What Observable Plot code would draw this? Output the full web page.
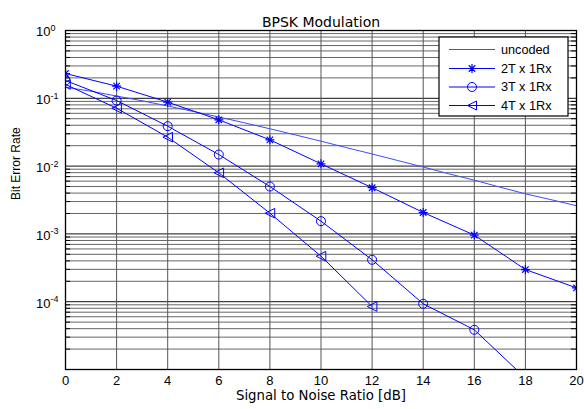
<!DOCTYPE html>
<html>
<head>
<meta charset="utf-8">
<script src="https://cdn.jsdelivr.net/npm/d3@7"></script>
<script src="https://cdn.jsdelivr.net/npm/@observablehq/plot@0.6"></script>
<style>
  body { margin: 0; background: #fff; }
  svg { font-family: "Liberation Sans", Arial, sans-serif; }
</style>
</head>
<body>
<div id="chart"></div>
<script>
// ---- data ----
const title = "BPSK Modulation";
const xLabel = "Signal to Noise Ratio [dB]";
const yLabel = "Bit Error Rate";
const seriesNames = ["uncoded", "2T x 1Rx", "3T x 1Rx", "4T x 1Rx"];

const snrUncoded = [0,1,2,3,4,5,6,7,8,9,10,11,12,13,14,15,16,17,18,19,20];
const berUncoded = [0.146,0.127,0.108,0.092,0.077,0.064,0.053,0.0435,0.0355,0.0288,0.0233,0.0187,0.0151,0.0121,0.0097,0.0077,0.0062,0.0049,0.0039,0.0032,0.0026];

const snr2T = [0,2,4,6,8,10,12,14,16,18,20];
const ber2T = [0.232,0.151,0.0877,0.0482,0.0244,0.0108,0.0048,0.00207,0.00096,0.000298,0.00016];

const snr3T = [0,2,4,6,8,10,12,14,16,18];
const ber3T = [0.183,0.0928,0.0388,0.0148,0.0050,0.00154,0.000415,0.0000931,0.0000385,0.0000075];

const snr4T = [0,2,4,6,8,10,12];
const ber4T = [0.160,0.0714,0.0267,0.00796,0.00202,0.000469,0.0000849];

const xTicks = [0,2,4,6,8,10,12,14,16,18,20];
const yMajor = [1e-5,1e-4,1e-3,1e-2,1e-1,1];
const yMinor = [];
for (let e = -5; e < 0; e++) for (let m = 2; m <= 9; m++) yMinor.push(m * Math.pow(10, e));

// ---- tables ----
const toRows = (xs, ys, s) => xs.map((x, i) => ({x, y: ys[i], s}));
const rowsU = toRows(snrUncoded, berUncoded, seriesNames[0]);
const rows2 = toRows(snr2T, ber2T, seriesNames[1]);
const rows3 = toRows(snr3T, ber3T, seriesNames[2]);
const rows4 = toRows(snr4T, ber4T, seriesNames[3]);

const blue = "#0000ff";
const lightBlue = "#3a4dff";

// ---- custom symbols ----
const star8 = {draw(ctx, size) {
  const r = Math.sqrt(size / Math.PI), d = r * 0.72;
  ctx.moveTo(-r, 0); ctx.lineTo(r, 0);
  ctx.moveTo(0, -r); ctx.lineTo(0, r);
  ctx.moveTo(-d, -d); ctx.lineTo(d, d);
  ctx.moveTo(-d, d); ctx.lineTo(d, -d);
}};
const triLeft = {draw(ctx, size) {
  const r = Math.sqrt(size / Math.PI);
  ctx.moveTo(-r, 0); ctx.lineTo(r, -r); ctx.lineTo(r, r); ctx.closePath();
}};

const chart = Plot.plot({
  width: 584,
  height: 409,
  marginLeft: 65,
  marginRight: 8,
  marginTop: 30,
  marginBottom: 40,
  style: {fontFamily: "Liberation Sans, Arial, sans-serif", fontSize: "13px", background: "#fff", overflow: "visible"},
  x: {domain: [0, 20], ticks: xTicks, tickSize: 0, tickPadding: 6, label: null},
  y: {type: "log", domain: [1e-5, 1], ticks: yMajor.slice(1), tickSize: 0, tickPadding: 29.5, label: null,
      tickFormat: d => String(Math.round(Math.log10(d)))},
  marks: [
    Plot.ruleY(yMinor, {stroke: "#666", strokeWidth: 1}),
    Plot.ruleY(yMajor, {stroke: "#111", strokeWidth: 1}),
    Plot.ruleX(xTicks, {stroke: "#555", strokeWidth: 1}),
    Plot.ruleY(yMinor, {x1: 0, x2: 0.2, stroke: "#000", strokeWidth: 1}),
    Plot.ruleY(yMinor, {x1: 19.8, x2: 20, stroke: "#000", strokeWidth: 1}),
    Plot.line(rowsU, {x: "x", y: "y", stroke: lightBlue, strokeWidth: 1, clip: true}),
    Plot.line(rows2, {x: "x", y: "y", stroke: blue, strokeWidth: 1, clip: true}),
    Plot.line(rows3, {x: "x", y: "y", stroke: blue, strokeWidth: 1, clip: true}),
    Plot.line(rows4, {x: "x", y: "y", stroke: blue, strokeWidth: 1, clip: true}),
    Plot.dot(rows2, {x: "x", y: "y", symbol: star8, r: 4.5, stroke: blue, strokeWidth: 1.2, clip: true}),
    Plot.dot(rows3, {x: "x", y: "y", symbol: "circle", r: 4.5, stroke: blue, fill: "none", strokeWidth: 1, clip: true}),
    Plot.dot(rows4, {x: "x", y: "y", symbol: triLeft, r: 4.8, stroke: blue, fill: "none", strokeWidth: 1, clip: true}),
    Plot.frame({stroke: "#000", strokeWidth: 1.3}),
    Plot.text([title], {frameAnchor: "top", dy: -13, fontSize: 14, fontFamily: "DejaVu Sans", fill: "#000"}),
    Plot.text([xLabel], {frameAnchor: "bottom", dy: 30, fontSize: 13.3, fontFamily: "DejaVu Sans", fill: "#000"}),
    Plot.text([yLabel], {frameAnchor: "left", dx: -49, rotate: -90, fontSize: 12, fill: "#000"})
  ]
});

document.getElementById("chart").appendChild(chart);

// y tick labels: "10" with a raised exponent, base aligned
const yLab = d3.select(chart).select('g[aria-label="y-axis tick label"]');
yLab.attr("text-anchor", "start");
yLab.selectAll("text").each(function() {
  const e = this.textContent;
  const t = d3.select(this);
  t.text("10").attr("dy", null).attr("y", "0.45em");
  t.append("tspan").attr("dy", "-0.6em").attr("font-size", "9px").text(e);
});

// legend
const svg = d3.select(chart);
const lg = svg.append("g").attr("text-anchor", "start");
const bx = 439, by = 37, bw = 129, bh = 79;
lg.append("rect").attr("x", bx).attr("y", by).attr("width", bw).attr("height", bh)
  .attr("fill", "#fff").attr("stroke", "#000").attr("stroke-width", 1.2);
const rowsY = [49.5, 68.5, 87, 105.5];
const syms = [null, star8, "circle", triLeft];
seriesNames.forEach((name, i) => {
  const y = rowsY[i];
  lg.append("line").attr("x1", 449).attr("x2", 495).attr("y1", y).attr("y2", y)
    .attr("stroke", i === 0 ? lightBlue : blue).attr("stroke-width", 1);
  if (syms[i] === "circle") {
    lg.append("circle").attr("cx", 472).attr("cy", y).attr("r", 4.5).attr("fill", "none").attr("stroke", blue);
  } else if (syms[i]) {
    lg.append("path").attr("transform", `translate(472,${y})`)
      .attr("d", d3.symbol(syms[i], 4.5 * 4.5 * Math.PI)())
      .attr("fill", "none").attr("stroke", blue).attr("stroke-width", i === 1 ? 1.2 : 1);
  }
  lg.append("text").attr("x", 501).attr("y", y).attr("dy", "0.35em")
    .attr("text-anchor", "start").attr("font-size", "12.7px").attr("fill", "#000").text(name);
});
</script>
</body>
</html>
